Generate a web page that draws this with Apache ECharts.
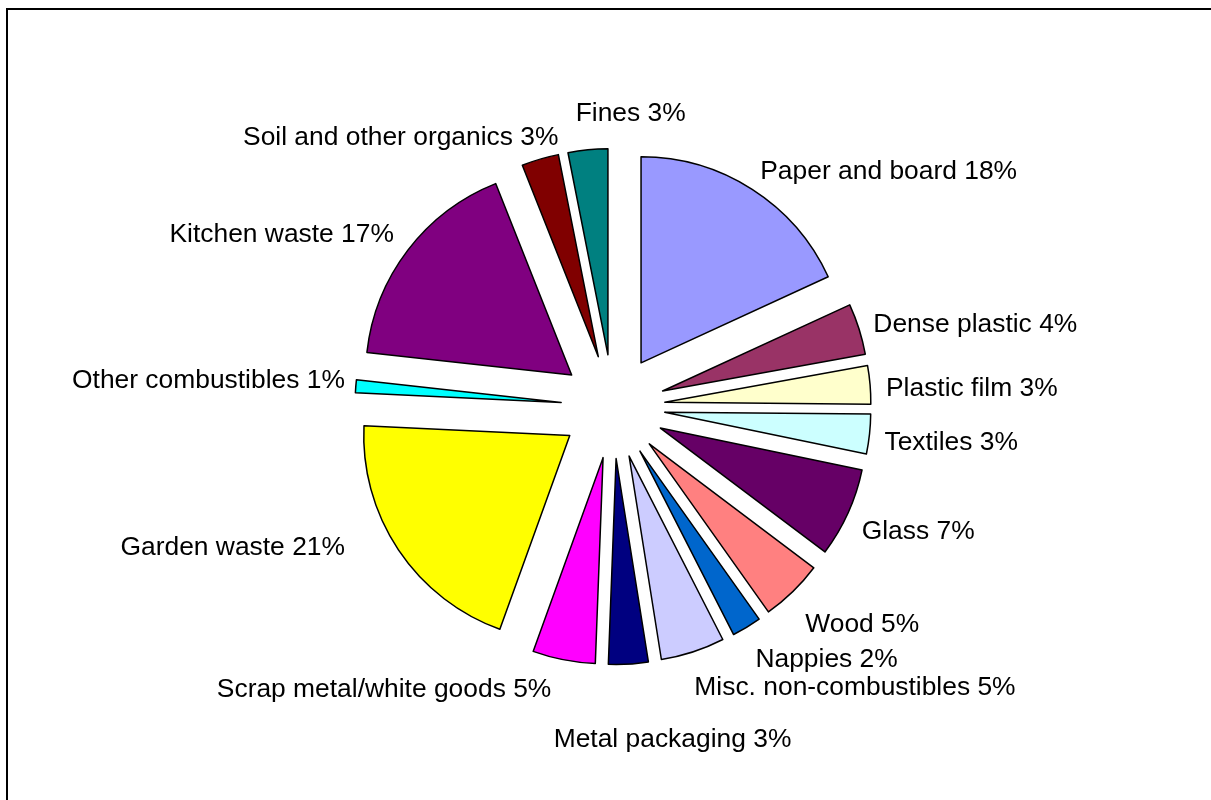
<!DOCTYPE html>
<html>
<head>
<meta charset="utf-8">
<script src="https://cdn.jsdelivr.net/npm/echarts@6/dist/echarts.min.js"></script>
<style>
html,body{margin:0;padding:0;background:#fff;}
#chart{width:1211px;height:800px;}
</style>
</head>
<body>
<div id="chart"></div>
<script>
// ---- data ----
const categories = ['Paper and board','Dense plastic','Plastic film','Textiles','Glass','Wood','Nappies',
  'Misc. non-combustibles','Metal packaging','Scrap metal/white goods','Garden waste','Other combustibles',
  'Kitchen waste','Soil and other organics','Fines'];
const values = [18.1, 4.0, 3.0, 3.1, 7.0, 4.9, 2.3, 5.0, 3.1, 4.9, 20.2, 1.0, 17.2, 2.9, 3.1];
const shownPercents = [18, 4, 3, 3, 7, 5, 2, 5, 3, 5, 21, 1, 17, 3, 3];
const colors = ['#9999FF','#993366','#FFFFCC','#CCFFFF','#660066','#FF8080','#0066CC',
  '#CCCCFF','#000080','#FF00FF','#FFFF00','#00FFFF','#800080','#800000','#008080'];

// ---- layout ----
const CENTER = [613, 406.6], RADIUS = 206, EXPLODE = 52, LABEL_DIST = 273;
const FONT_SIZE = 26.4, FONT = FONT_SIZE + 'px Arial, "Liberation Sans", sans-serif';
// manual label nudges (Excel-style label placement of the source chart)
const labelShift = {
  'Paper and board': [0, 8],
  'Dense plastic': [0, 8],
  'Plastic film': [1, 8],
  'Textiles': [0, 4],
  'Glass': [0, 2],
  'Wood': [2, 9],
  'Nappies': [1, 7],
  'Misc. non-combustibles': [58, 9],
  'Metal packaging': [29, 48],
  'Scrap metal/white goods': [-113, 2],
  'Garden waste': [-41, -23],
  'Other combustibles': [4, -2],
  'Kitchen waste': [-2, 7],
  'Soil and other organics': [-46, 6],
  'Fines': [55, -8]
};

const total = values.reduce((a, b) => a + b, 0);
const midAngles = [];
let acc = 0;
values.forEach(v => { midAngles.push((acc + v / 2) / total * 2 * Math.PI); acc += v; });
const clamp = x => Math.max(-1, Math.min(1, x));

const measureCtx = document.createElement('canvas').getContext('2d');
measureCtx.font = FONT;

const labelGraphics = categories.map((c, i) => {
  const text = c + ' ' + shownPercents[i] + '%';
  const w = measureCtx.measureText(text).width, h = 26;
  const th = midAngles[i];
  const dx = Math.sin(th), dy = -Math.cos(th);
  const fx = 0.5 - 0.5 * clamp(2 * dx), fy = 0.5 - 0.5 * clamp(2 * dy);
  const px = CENTER[0] + LABEL_DIST * dx, py = CENTER[1] + LABEL_DIST * dy;
  const s = labelShift[c] || [0, 0];
  return {
    type: 'text', silent: true, z: 10,
    x: px - fx * w + s[0], y: py - fy * h + s[1],
    style: {text: text, font: FONT, fill: '#000', align: 'left', verticalAlign: 'top', lineHeight: h}
  };
});

const chart = echarts.init(document.getElementById('chart'), null, {renderer: 'canvas'});
chart.setOption({
  animation: false,
  backgroundColor: '#fff',
  graphic: [{
    type: 'rect', shape: {x: 7, y: 9, width: 2000, height: 2000},
    style: {fill: 'none', stroke: '#000', lineWidth: 2}, silent: true
  }].concat(labelGraphics),
  series: [{
    type: 'pie',
    center: CENTER,
    radius: RADIUS,
    startAngle: 90,
    clockwise: true,
    selectedMode: 'multiple',
    selectedOffset: EXPLODE,
    avoidLabelOverlap: false,
    emphasis: {disabled: true},
    itemStyle: {borderColor: '#000', borderWidth: 1.5},
    label: {show: false},
    labelLine: {show: false},
    data: categories.map((c, i) => ({
      name: c, value: values[i], selected: true,
      itemStyle: {color: colors[i]}
    }))
  }]
});
</script>
</body>
</html>
